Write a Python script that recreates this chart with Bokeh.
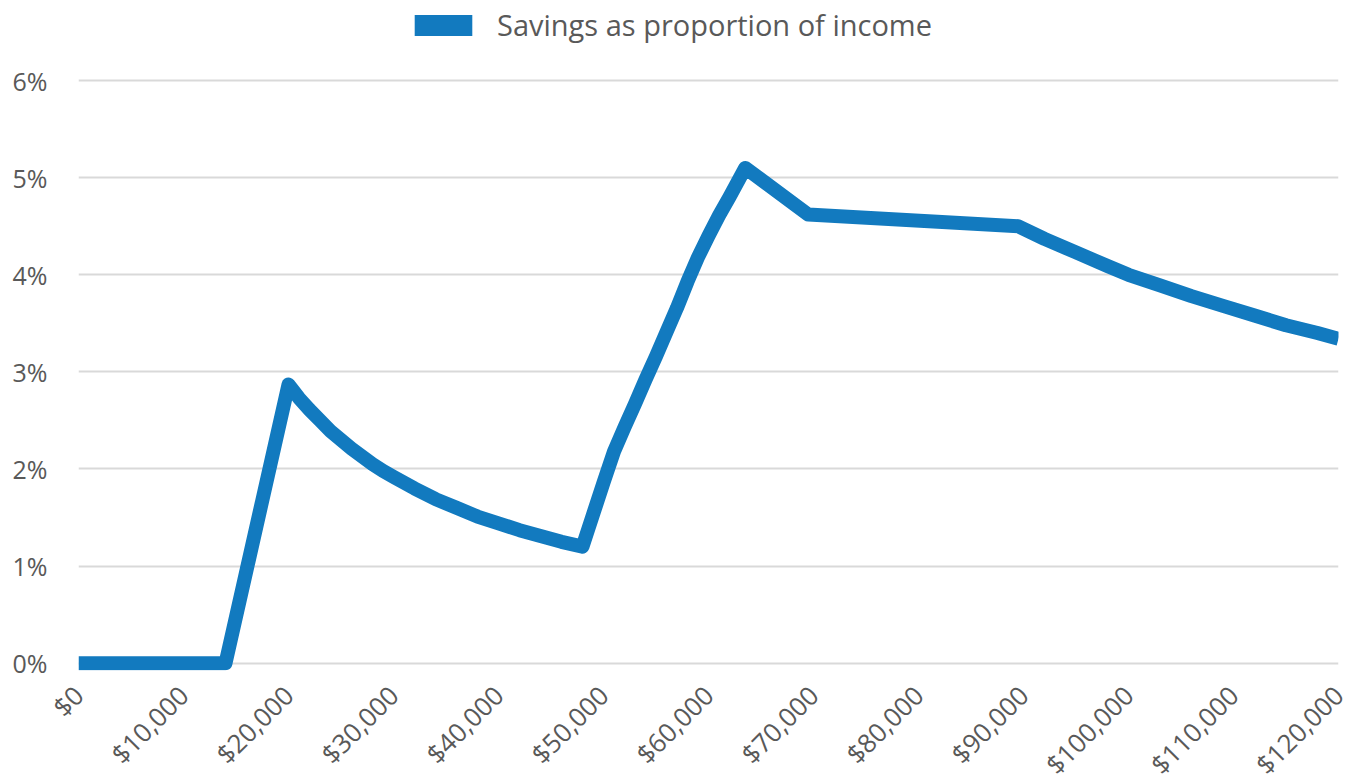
import math
from bokeh.plotting import figure
from bokeh.models import (Range1d, Legend, LegendItem, NumeralTickFormatter,
                          PrintfTickFormatter, FixedTicker, ColumnDataSource)
from bokeh.embed import file_html
from bokeh.resources import INLINE

# ---- data ----
income = [0, 14000, 20000, 21000, 22000, 23000, 24000, 25000, 26000, 27000,
          28000, 29000, 30000, 32000, 34000, 36000, 38000, 40000, 42000,
          44000, 46000, 48000, 49000, 50000, 51000, 52000, 53000, 54000,
          55000, 56000, 57000, 58000, 59000, 60000, 61000, 62000,
          63500, 69500, 89500, 92000, 95000, 98000, 100000, 103000, 106000,
          109000, 112000, 115000, 118000, 120000]
savings_pct = [0.0, 0.0, 2.87, 2.73, 2.61, 2.5, 2.39, 2.3, 2.21, 2.13,
               2.05, 1.98, 1.92, 1.8, 1.69, 1.6, 1.51, 1.44, 1.37,
               1.31, 1.25, 1.2, 1.53, 1.86, 2.18, 2.43, 2.67, 2.92,
               3.16, 3.41, 3.66, 3.93, 4.18, 4.4, 4.61, 4.8,
               5.1, 4.62, 4.5, 4.37, 4.23, 4.09, 4.0, 3.89, 3.78,
               3.68, 3.58, 3.48, 3.4, 3.34]
x_ticks = list(range(0, 120001, 10000))
y_ticks = [0, 1, 2, 3, 4, 5, 6]
series_name = "Savings as proportion of income"

BLUE = "#127ABF"
TEXT = "#595959"
FONT = "Open Sans"

p = figure(frame_width=1260, frame_height=670, output_backend="svg",
           toolbar_location=None,
           x_range=Range1d(0, 120000), y_range=Range1d(-0.075, 6.824),
           min_border_left=78, min_border_right=21, min_border_top=0,
           min_border_bottom=100)
p.outline_line_color = None
p.background_fill_color = "white"
p.border_fill_color = "white"

src = ColumnDataSource(dict(x=income, y=savings_pct))
line = p.line("x", "y", source=src, line_color=BLUE, line_width=14,
              line_join="round", line_cap="butt")

# legend swatch renderer (hidden, zero-size, only feeds the legend)
sw = p.quad(left=income[:1], right=income[:1], top=savings_pct[:1],
            bottom=savings_pct[:1], fill_color=BLUE, line_color=None,
            visible=False)

p.xgrid.grid_line_color = None
p.ygrid.grid_line_color = "#D9D9D9"
p.ygrid.grid_line_width = 2
p.ygrid.ticker = FixedTicker(ticks=y_ticks)

p.yaxis.ticker = FixedTicker(ticks=y_ticks)
p.yaxis.formatter = PrintfTickFormatter(format="%d%%")
p.xaxis.ticker = FixedTicker(ticks=x_ticks)
p.xaxis.formatter = NumeralTickFormatter(format="$0,0")
p.xaxis.major_label_orientation = math.pi / 4

for ax in (p.xaxis[0], p.yaxis[0]):
    ax.axis_line_color = None
    ax.major_tick_line_color = None
    ax.minor_tick_line_color = None
    ax.major_tick_out = 0
    ax.major_tick_in = 0
    ax.minor_tick_out = 0
    ax.minor_tick_in = 0
    ax.major_label_text_color = TEXT
    ax.major_label_text_font = FONT
p.yaxis.major_label_text_font_size = "25px"
p.xaxis.major_label_text_font_size = "26px"
p.yaxis.major_label_standoff = 31
p.xaxis.major_label_standoff = 20

legend = Legend(items=[LegendItem(label=series_name, renderers=[sw])],
                location=(329, 626), orientation="horizontal",
                glyph_width=72, glyph_height=26, label_standoff=18,
                label_text_font=FONT, label_text_font_size="29px",
                label_text_color=TEXT, padding=5, margin=0,
                border_line_color=None, background_fill_alpha=0,
                click_policy="none")
p.add_layout(legend)

open("out.html", "w").write(file_html(p, INLINE))
